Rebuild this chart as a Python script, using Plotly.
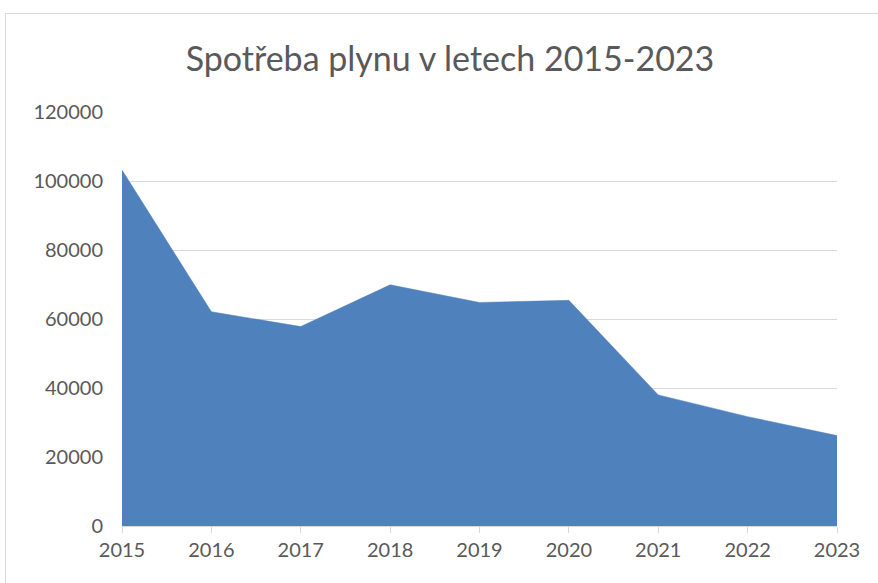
import plotly.graph_objects as go

years = [2015, 2016, 2017, 2018, 2019, 2020, 2021, 2022, 2023]
consumption = [103200, 62100, 57800, 69900, 64800, 65400, 38000, 31700, 26200]
y_ticks = [0, 20000, 40000, 60000, 80000, 100000, 120000]

W, H = 878, 583
L, R, T, B = 122, 41, 112, 57
pw = W - L - R
ph = H - T - B

fig = go.Figure()
fig.add_trace(go.Scatter(
    x=years, y=consumption, mode="lines", fill="tozeroy",
    fillcolor="#4F81BD", line=dict(color="#4F81BD", width=0.5),
    hoverinfo="x+y", showlegend=False,
))

font = "Lato, 'Open Sans', Arial, sans-serif"
grid = "#D9D9D9"
txt = "#595959"

fig.update_layout(
    width=W, height=H,
    margin=dict(l=L, r=R, t=T, b=B, autoexpand=False),
    paper_bgcolor="white", plot_bgcolor="white",
    font=dict(family=font, color=txt, size=20),
    title=dict(text="Spotřeba plynu v letech 2015-2023",
               x=450 / W, xref="container", xanchor="center",
               y=1 - 59 / H, yref="container", yanchor="middle",
               font=dict(family=font, size=34, color=txt)),
    xaxis=dict(range=[2015, 2023], tickmode="array", tickvals=years,
               ticktext=[str(y) for y in years], showgrid=False,
               zeroline=False, showline=True, linecolor=grid, linewidth=1,
               ticks="outside", ticklen=6, tickcolor=grid, tickwidth=1,
               tickfont=dict(size=20, color=txt)),
    yaxis=dict(range=[0, 120000], tickmode="array", tickvals=y_ticks,
               ticktext=[str(v) for v in y_ticks], showgrid=True,
               gridcolor=grid, gridwidth=1, zeroline=False, showline=False,
               ticks="", ticklabelstandoff=18,
               tickfont=dict(size=20, color=txt)),
    shapes=[dict(type="rect", xref="paper", yref="paper",
                 x0=(5.5 - L) / pw, x1=(W + 20 - L) / pw,
                 y0=(H - B - (H + 20)) / ph, y1=(H - B - 13.5) / ph,
                 line=dict(color=grid, width=1), fillcolor="rgba(0,0,0,0)",
                 layer="below")],
)

fig.write_html(
    "out.html",
    config={"displayModeBar": False},
    post_script="document.body.style.margin='0';document.body.style.overflow='hidden';",
)
